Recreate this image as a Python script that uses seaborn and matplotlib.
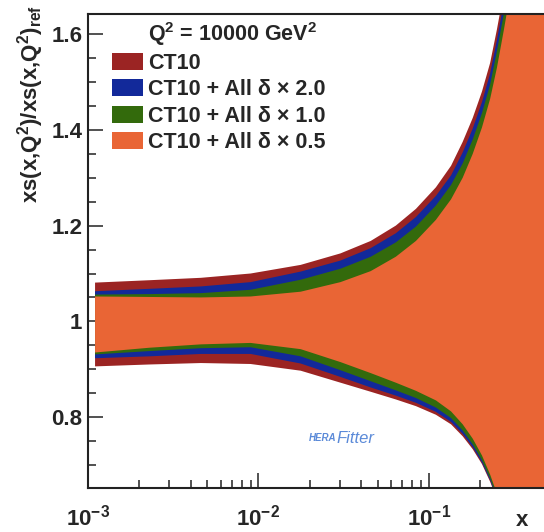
import numpy as np
import pandas as pd
import matplotlib
matplotlib.use("Agg")
import matplotlib.pyplot as plt
from matplotlib.ticker import MultipleLocator, LogLocator, FuncFormatter, NullFormatter
from matplotlib.patches import Patch
import seaborn as sns

# -----------------------------
# data (ratio bands vs x)
# -----------------------------
x_vals = [0.0011, 0.0023, 0.0046, 0.009, 0.0177, 0.0303, 0.0456, 0.064, 0.084,
          0.110, 0.135, 0.158, 0.181, 0.205, 0.229, 0.251, 0.276, 0.312, 0.48]

ct10_hi = [1.081, 1.086, 1.091, 1.100, 1.118, 1.142, 1.168, 1.200, 1.235,
           1.280, 1.325, 1.375, 1.425, 1.480, 1.540, 1.610, 1.690, 1.800, 2.100]
ct10_lo = [0.906, 0.910, 0.913, 0.911, 0.897, 0.872, 0.853, 0.837, 0.823,
           0.805, 0.785, 0.760, 0.733, 0.702, 0.665, 0.628, 0.590, 0.545, 0.400]

d20_hi = [1.063, 1.068, 1.073, 1.082, 1.104, 1.127, 1.153, 1.184, 1.218,
          1.262, 1.305, 1.353, 1.403, 1.458, 1.518, 1.588, 1.668, 1.775, 2.100]
d20_lo = [0.923, 0.927, 0.932, 0.932, 0.912, 0.884, 0.862, 0.845, 0.830,
          0.811, 0.790, 0.765, 0.737, 0.705, 0.668, 0.631, 0.592, 0.546, 0.400]

d10_hi = [1.056, 1.057, 1.059, 1.066, 1.087, 1.110, 1.135, 1.165, 1.198,
          1.242, 1.285, 1.330, 1.380, 1.435, 1.495, 1.565, 1.645, 1.750, 2.100]
d10_lo = [0.931, 0.938, 0.944, 0.946, 0.927, 0.898, 0.875, 0.856, 0.840,
          0.820, 0.798, 0.772, 0.743, 0.710, 0.672, 0.634, 0.595, 0.548, 0.400]

d05_hi = [1.052, 1.051, 1.050, 1.052, 1.062, 1.082, 1.105, 1.135, 1.168,
          1.212, 1.255, 1.300, 1.350, 1.405, 1.465, 1.530, 1.610, 1.720, 2.100]
d05_lo = [0.935, 0.945, 0.952, 0.955, 0.942, 0.915, 0.892, 0.872, 0.855,
          0.835, 0.812, 0.785, 0.755, 0.720, 0.680, 0.640, 0.600, 0.550, 0.400]

labels = ["CT10", "CT10 + All δ × 2.0", "CT10 + All δ × 1.0", "CT10 + All δ × 0.5"]
colors = ["#9b2423", "#12299a", "#336a0c", "#e96535"]

bands = pd.DataFrame({
    "x": x_vals,
    "ct10_hi": ct10_hi, "ct10_lo": ct10_lo,
    "d20_hi": d20_hi, "d20_lo": d20_lo,
    "d10_hi": d10_hi, "d10_lo": d10_lo,
    "d05_hi": d05_hi, "d05_lo": d05_lo,
})
keys = ["ct10", "d20", "d10", "d05"]

# -----------------------------
# style
# -----------------------------
sns.set_style("ticks")
plt.rcParams["font.family"] = ["Liberation Sans", "DejaVu Sans"]
plt.rcParams["font.weight"] = "bold"
plt.rcParams["mathtext.fontset"] = "custom"
plt.rcParams["mathtext.rm"] = "Liberation Sans:bold"
plt.rcParams["mathtext.it"] = "Liberation Sans:bold"
plt.rcParams["mathtext.bf"] = "Liberation Sans:bold"
plt.rcParams["mathtext.default"] = "rm"

fig = plt.figure(figsize=(5.44, 5.32), dpi=100)
ax = fig.add_axes([88 / 544, 44 / 532, 1 - 88 / 544, 474 / 532])

for k, c in zip(keys, colors):
    ax.fill_between(bands["x"], bands[k + "_lo"], bands[k + "_hi"],
                    color=c, linewidth=0)

ax.set_xscale("log")
ax.set_xlim(1e-3, 0.474)
ax.set_ylim(0.652, 1.642)

ax.yaxis.set_major_locator(MultipleLocator(0.2))
ax.yaxis.set_minor_locator(MultipleLocator(0.05))
ax.yaxis.set_major_formatter(FuncFormatter(lambda v, p: f"{v:g}"))
ax.xaxis.set_major_locator(LogLocator(base=10))
ax.xaxis.set_minor_locator(LogLocator(base=10, subs=np.arange(2, 10)))
ax.xaxis.set_major_formatter(FuncFormatter(lambda v, p: r"$10^{%d}$" % round(np.log10(v))))
ax.xaxis.set_minor_formatter(NullFormatter())

ax.tick_params(which="both", direction="in", width=1.1, color="#222222",
               top=False, right=False)
ax.tick_params(which="major", length=11, labelsize=16)
ax.tick_params(axis="x", which="major", pad=12)
ax.tick_params(axis="y", which="major", pad=4)
ax.tick_params(which="minor", length=5.5)
for s in ["left", "bottom", "top"]:
    ax.spines[s].set_linewidth(1.5)
    ax.spines[s].set_color("#222222")
ax.spines["right"].set_visible(False)

# legend with a header row
handles = [Patch(facecolor="none", edgecolor="none")]
handles += [Patch(facecolor=c, edgecolor="none") for c in colors]
leg_labels = [r"Q$^2$ = 10000 GeV$^2$"] + labels
ax.legend(handles, leg_labels, loc="upper left", bbox_to_anchor=(0.053, 0.988),
          frameon=False, fontsize=15.5, borderpad=0, borderaxespad=0,
          handlelength=1.42, handleheight=0.83, handletextpad=0.25,
          labelspacing=0.25)

# axis titles
fig.text(31 / 544, 1 - 5 / 532, r"xs(x,Q$^2$)/xs(x,Q$^2$)$_{ref}$",
         rotation=90, ha="center", va="top", fontsize=16)
fig.text(522 / 544, 1 - 521 / 532, "x", ha="center", va="center", fontsize=16)

# HERAFitter logo (text only)
ax.text(0.545, 0.105, "HERA", transform=ax.transAxes, fontsize=7,
        style="italic", color="#5b8ad8", ha="right", va="center")
ax.text(0.545, 0.105, "Fitter", transform=ax.transAxes, fontsize=12,
        style="italic", weight="normal", color="#5b8ad8", ha="left", va="center")

fig.savefig("out.png", dpi=100)
